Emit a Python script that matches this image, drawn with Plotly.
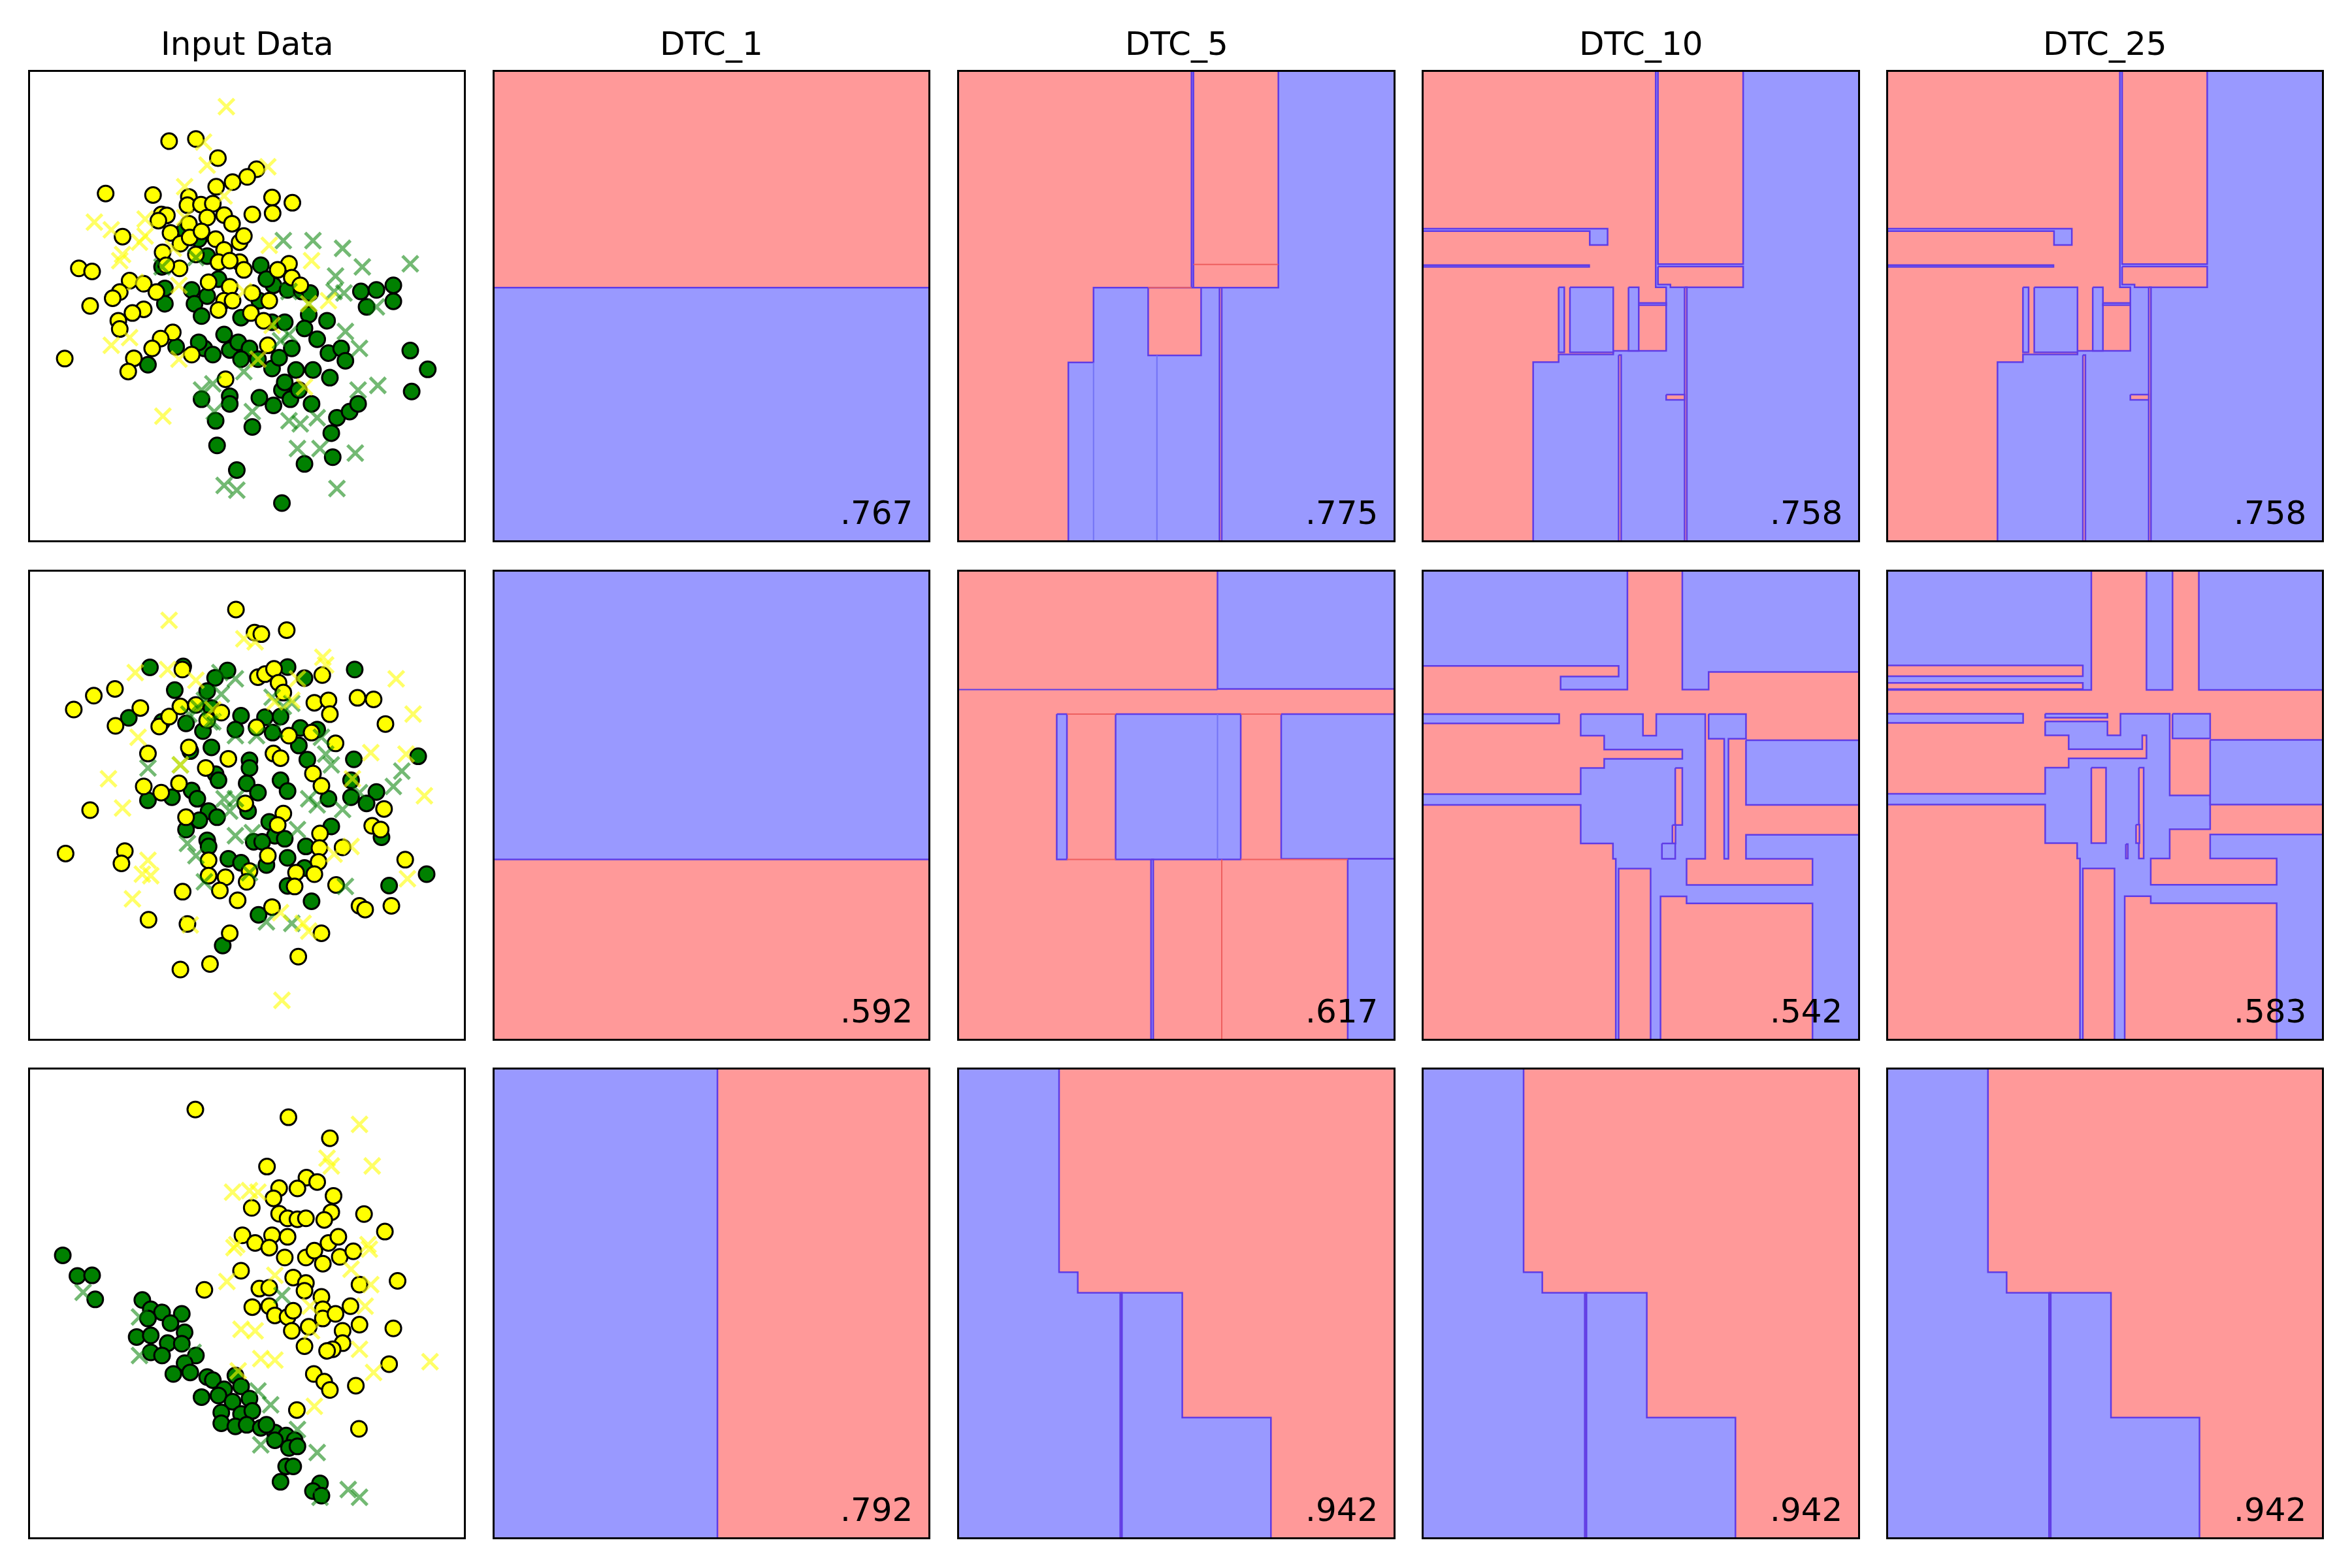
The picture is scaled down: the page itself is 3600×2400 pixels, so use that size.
import plotly.graph_objects as go

# ------------------------------------------------------------------ data
TITLES = ["Input Data", "DTC_1", "DTC_5", "DTC_10", "DTC_25"]
SCORES = [[".767", ".775", ".758", ".758"],
          [".592", ".617", ".542", ".583"],
          [".792", ".942", ".942", ".942"]]

# ---- input data, row 1 (x, y in panel reading units, y grows downward)
R1_TRAIN_YELLOW = [(505,252),(600,245),(678,307),(815,343),(782,368),(730,385),(672,400),(280,422),(448,427),(575,433),
    (570,460),(618,458),(660,455),(870,435),(942,452),(872,486),(800,490),(478,490),(497,493),(640,500),(700,492),
    (728,520),(467,510),(510,550),(575,520),(340,562),(545,585),(578,565),(670,570),(755,580),(770,560),(482,613),
    (700,605),(680,645),(755,645),(770,670),(930,650),(890,670),(185,665),(232,675),(542,665),(495,655),(365,705),
    (415,715),(460,742),(330,742),(305,762),(225,787),(645,710),(720,725),(700,770),(795,810),(680,800),(940,695),
    (970,720),(415,798),(375,810),(325,835),(330,862),(840,835),(518,873),(475,893),(445,925),(585,945),(380,957),
    (360,1000),(855,915),(705,1025),(135,958),(860,770),(800,745),(620,545),(600,620),(720,640),(730,770)]
R1_TRAIN_GREEN = [(610,570),(640,625),(830,655),(875,720),(925,735),(480,660),(490,730),(490,780),(585,735),(595,780),
    (620,820),(640,755),(760,825),(825,770),(870,840),(915,840),(975,740),(1005,745),(1000,815),(1065,835),(985,860),
    (1030,895),(940,925),(1070,940),(1115,925),(1130,965),(1075,1020),(1015,995),(955,995),(870,990),(895,955),
    (630,925),(610,905),(660,945),(720,930),(750,905),(790,925),(700,880),(820,960),(530,920),(430,978),(620,1090),
    (720,1080),(720,1105),(670,1160),(825,1085),(875,1110),(905,1060),(935,1090),(1010,1105),(915,1035),(965,1060),
    (1100,1150),(1145,1130),(1175,1105),(1080,1200),(800,1180),(675,1240),(745,1320),(985,1300),(1085,1278),
    (905,1427),(1185,740),(1240,735),(1300,720),(1300,772),(1205,790),(1360,932),(1422,993),(1365,1065),(560,540),
    (680,700),(760,960),(850,700)]
R1_TEST_YELLOW = [(708,140),(627,255),(640,330),(855,335),(560,400),(240,515),(300,540),(420,505),(400,580),(420,560),
    (340,620),(330,640),(540,720),(860,590),(1010,640),(385,710),(300,915),(365,890),(540,960),(483,1145),(985,1050),
    (1000,780),(1070,770),(770,740),(820,960),(870,850),(560,500),(700,430),(520,600)]
R1_TEST_GREEN = [(910,575),(1015,575),(1120,600),(1190,660),(1360,650),(1095,690),(1125,745),(1240,790),(1130,870),
    (1180,925),(1245,1045),(1175,1060),(930,880),(900,900),(800,1130),(930,1160),(970,1170),(1030,1150),(960,1250),
    (1040,1250),(1165,1265),(1100,1380),(700,1370),(745,1385),(620,1060),(660,1040),(665,1130),(770,1000),(930,740),
    (1090,740),(600,630),(480,660),(1000,780)]

# ---- input data, row 2
R2_TRAIN_YELLOW = [(742,145),(808,220),(832,225),(922,212),(552,340),(820,365),(845,355),(877,338),(893,383),(1048,358),
    (313,403),(238,425),(167,470),(403,465),(315,523),(470,525),(505,493),(545,460),(600,455),(690,480),(640,505),
    (910,415),(1020,448),(1070,440),(1075,485),(1173,432),(1230,437),(1272,517),(815,528),(930,555),(1010,545),
    (1095,580),(430,613),(575,593),(715,630),(635,660),(875,613),(900,628),(1015,678),(1045,718),(415,720),(477,740),
    (540,710),(225,797),(775,775),(910,808),(890,845),(565,820),(1267,793),(1225,848),(1255,860),(1040,873),
    (1038,920),(1120,918),(645,960),(855,945),(1035,965),(1020,1005),(955,1000),(790,995),(705,1015),(645,1010),
    (685,1058),(780,1030),(950,1045),(1097,1040),(1342,958),(138,938),(348,930),(336,970),(553,1062),(748,1090),
    (870,1112),(1180,1108),(1200,1120),(1293,1108),(432,1153),(570,1167),(720,1197),(1045,1197),(963,1273),
    (650,1297),(545,1315)]
R2_TRAIN_GREEN = [(437,333),(555,330),(712,343),(668,367),(925,332),(985,368),(1163,340),(525,407),(640,410),(655,465),
    (760,490),(845,495),(900,493),(362,497),(480,510),(565,515),(625,540),(740,535),(872,545),(970,530),(1030,535),
    (965,587),(655,593),(580,605),(790,635),(790,660),(995,633),(1160,632),(1388,622),(670,680),(680,700),(780,710),
    (900,700),(925,735),(820,740),(1150,700),(1240,738),(1205,775),(1070,760),(1150,755),(430,765),(515,755),
    (585,733),(605,760),(645,800),(675,820),(785,800),(612,830),(565,860),(860,835),(880,880),(915,890),(1080,850),
    (990,915),(805,900),(835,900),(640,895),(645,915),(715,955),(760,968),(850,975),(925,952),(985,985),(925,1043),
    (1010,1093),(822,1137),(1258,885),(1285,1042),(1418,1005),(695,1237)]
R2_TEST_YELLOW = [(505,180),(770,240),(810,250),(1050,300),(1060,325),(385,350),(500,340),(600,375),(1310,370),
    (1370,485),(395,560),(290,695),(340,790),(960,370),(660,470),(545,650),(1220,610),(1345,615),(1410,750),
    (1155,695),(430,960),(410,1005),(440,1010),(375,1085),(580,1170),(900,1130),(980,1165),(1350,1020),(1150,915),
    (1000,1190),(905,1415),(940,440),(880,445),(1090,940)]
R2_TEST_GREEN = [(740,370),(685,350),(690,420),(630,440),(575,485),(610,465),(650,510),(740,555),(815,555),(870,430),
    (910,460),(940,450),(1045,560),(1060,615),(1080,650),(430,660),(545,650),(700,760),(740,760),(720,800),
    (1000,760),(1030,780),(1120,795),(1180,740),(1300,720),(1330,670),(740,880),(800,870),(960,860),(570,905),
    (600,945),(630,1030),(790,1000),(850,1160),(940,1165),(1130,1045),(880,535),(660,510)]

# ---- input data, row 3
R3_TRAIN_YELLOW = [(598,152),(928,177),(1075,245),(852,337),(992,373),(1030,387),(960,408),(895,407),(875,440),
    (1088,432),(798,471),(895,490),(1080,485),(1196,491),(925,505),(960,508),(990,505),(1055,510),(1270,548),
    (765,560),(810,585),(870,560),(925,565),(860,600),(915,632),(990,632),(1020,610),(1050,652),(1070,585),
    (1105,565),(1110,630),(1158,612),(760,675),(630,737),(945,697),(990,715),(985,740),(1315,708),(1180,720),
    (825,733),(860,730),(800,793),(860,790),(880,820),(925,825),(945,805),(1045,760),(1050,800),(1050,830),
    (1095,815),(1148,790),(1180,850),(1000,857),(940,870),(1120,870),(1120,910),(1085,930),(985,920),(1065,935),
    (1300,862),(1285,978),(1018,1010),(1055,1035),(1075,1062),(1167,1048),(958,1127),(1178,1188)]
R3_TRAIN_GREEN = [(128,625),(180,692),(232,690),(243,768),(410,770),(440,800),(480,810),(550,815),(430,830),(510,845),
    (560,875),(390,890),(440,885),(500,910),(550,912),(440,940),(480,950),(600,950),(560,975),(520,1010),(580,1005),
    (640,1020),(660,1030),(740,1015),(700,1060),(760,1050),(620,1085),(680,1080),(730,1100),(790,1090),(690,1135),
    (760,1140),(800,1130),(690,1170),(740,1180),(780,1175),(830,1185),(880,1200),(850,1175),(920,1210),(950,1225),
    (880,1225),(930,1250),(960,1245),(920,1310),(945,1310),(900,1360),(1040,1365),(1015,1390),(1045,1405)]
R3_TEST_YELLOW = [(1180,200),(1065,310),(1080,335),(1225,335),(730,420),(790,415),(820,420),(745,590),(735,600),
    (1210,590),(1215,605),(1150,670),(710,710),(1220,720),(1200,790),(1005,790),(760,865),(810,870),(830,960),
    (880,965),(1010,870),(1180,930),(1230,1005),(1430,970),(1020,1115),(750,1000),(880,690)]
R3_TEST_GREEN = [(200,745),(400,825),(400,950),(590,940),(820,1065),(865,1110),(960,1190),(830,1240),(1030,1265),
    (1140,1385),(1180,1410),(1040,1410),(905,755)]

# ---- decision regions: (class, rect (x0,y0,x1,y1) or polygon [(x,y),...]); drawn in order
R1_DTC1 = [("R", (0, 0, 1570, 1570)), ("B", (0, 727, 1570, 1570))]
R1_DTC5 = [
    ("B", (0, 0, 1570, 1570)),
    ("R", [(0, 0), (838, 0), (838, 727), (492, 727), (492, 970), (403, 970), (403, 1570), (0, 1570)]),
    ("R", (845, 0, 1145, 727)),
    ("R", (685, 727, 872, 947)),
    ("R", (937, 727, 945, 1570)),
]
R1_DTC10 = [
    ("B", (0, 0, 1570, 1570)),
    ("R", [(0, 0), (838, 0), (838, 727), (875, 727), (875, 933), (688, 933), (688, 945), (495, 945), (495, 970),
           (405, 970), (405, 1570), (0, 1570)]),
    ("B", [(0, 537), (668, 537), (668, 590), (605, 590), (605, 545), (0, 545)]),
    ("B", (0, 655, 603, 661)),
    ("B", (495, 727, 515, 938)),
    ("B", (535, 727, 688, 938)),
    ("B", (742, 727, 778, 933)),
    ("B", (778, 778, 875, 785)),
    ("R", (846, 0, 1147, 652)),
    ("R", [(846, 660), (1147, 660), (1147, 727), (890, 727), (890, 718), (846, 718)]),
    ("R", (707, 947, 716, 1570)),
    ("R", (940, 727, 948, 1570)),
    ("R", (875, 1075, 940, 1092)),
]
R2_DTC1 = [("B", (0, 0, 1570, 1570)), ("R", (0, 957, 1570, 1570))]
R2_DTC5 = [
    ("R", (0, 0, 1570, 1570)),
    ("B", (930, 0, 1570, 403)),
    ("B", (362, 485, 398, 957)),
    ("B", (570, 485, 1012, 957)),
    ("B", (1155, 485, 1570, 955)),
    ("B", (1390, 955, 1570, 1570)),
    ("B", (695, 957, 703, 1570)),
]
R2_DTC10 = [
    ("R", (0, 0, 1570, 1570)),
    ("B", [(0, 0), (738, 0), (738, 405), (502, 405), (502, 363), (707, 363), (707, 328), (0, 328)]),
    ("B", [(932, 0), (1570, 0), (1570, 348), (1025, 348), (1025, 405), (932, 405)]),
    ("B", (0, 485, 497, 515)),
    ("B", [(573, 485), (793, 485), (793, 555), (840, 555), (840, 485), (1013, 485), (1013, 955), (947, 955),
           (947, 1040), (1392, 1040), (1392, 955), (1157, 955), (1157, 877), (1570, 877), (1570, 1570),
           (1392, 1570), (1392, 1100), (947, 1100), (947, 1077), (855, 1077), (855, 1570), (820, 1570),
           (820, 987), (707, 987), (707, 1570), (697, 1570), (697, 955), (687, 955), (687, 905), (573, 905),
           (573, 780), (0, 780), (0, 745), (573, 745), (573, 660), (656, 660), (656, 630), (932, 630),
           (932, 600), (656, 600), (656, 555), (573, 555)]),
    ("B", [(1025, 485), (1157, 485), (1157, 565), (1095, 565), (1095, 955), (1080, 955), (1080, 565), (1025, 565)]),
    ("B", (1157, 570, 1570, 780)),
    ("R", (907, 660, 932, 845)),
    ("R", (897, 845, 908, 905)),
    ("B", (860, 905, 907, 955)),
]
R2_DTC25 = [
    ("R", (0, 0, 1570, 1570)),
    ("B", (0, 0, 740, 408)),
    ("R", (0, 328, 710, 363)),
    ("R", (0, 385, 710, 405)),
    ("B", (935, 0, 1027, 408)),
    ("B", (1120, 0, 1570, 408)),
    ("B", (0, 485, 499, 515)),
    ("B", (577, 485, 797, 498)),
    ("B", [(577, 510), (797, 510), (797, 555), (843, 555), (843, 485), (1017, 485), (1017, 750), (1160, 750),
           (1160, 860), (1017, 860), (1017, 955), (950, 955), (950, 1040), (1395, 1040), (1395, 955),
           (1160, 955), (1160, 877), (1570, 877), (1570, 1570), (1395, 1570), (1395, 1100), (950, 1100),
           (950, 1077), (858, 1077), (858, 1570), (822, 1570), (822, 987), (710, 987), (710, 1570),
           (700, 1570), (700, 955), (690, 955), (690, 905), (577, 905), (577, 780), (0, 780), (0, 745),
           (577, 745), (577, 660), (660, 660), (660, 630), (935, 630), (935, 555), (920, 555), (920, 600),
           (660, 600), (660, 555), (577, 555)]),
    ("R", (740, 660, 792, 905)),
    ("R", (908, 660, 925, 955)),
    ("R", (898, 845, 910, 905)),
    ("R", (862, 908, 869, 955)),
    ("B", (1027, 485, 1160, 565)),
    ("B", (1160, 570, 1570, 780)),
]
R3_DTC1 = [("R", (0, 0, 1570, 1570)), ("B", (0, 0, 805, 1570))]
R3_DTC5 = [
    ("R", (0, 0, 1570, 1570)),
    ("B", [(0, 0), (370, 0), (370, 680), (436, 680), (436, 747), (805, 747), (805, 1152), (1118, 1152),
           (1118, 1570), (0, 1570)]),
    ("R", (586, 747, 592, 1570)),
]

# same-class seams visible inside regions
R1_DTC5_SEAMS = [("R", [(845, 652), (1145, 652)]), ("R", [(685, 727), (838, 727)]),
                 ("B", [(492, 970), (492, 1570)]), ("B", [(716, 947), (716, 1570)])]
R2_DTC5_SEAMS = [("P", [(0, 405), (930, 405)]), ("R", [(945, 957), (945, 1570)]),
                 ("R", [(398, 485), (570, 485)]), ("R", [(1012, 485), (1155, 485)]),
                 ("R", [(398, 957), (570, 957)]), ("R", [(1012, 957), (1390, 957)]),
                 ("B", [(930, 485), (930, 957)])]

REGIONS = [[R1_DTC1, R1_DTC5, R1_DTC10, R1_DTC10],
           [R2_DTC1, R2_DTC5, R2_DTC10, R2_DTC25],
           [R3_DTC1, R3_DTC5, R3_DTC5, R3_DTC5]]
SEAMS = [[[], R1_DTC5_SEAMS, [], []],
         [[], R2_DTC5_SEAMS, [], []],
         [[], [], [], []]]
INPUT = [(R1_TRAIN_YELLOW, R1_TRAIN_GREEN, R1_TEST_YELLOW, R1_TEST_GREEN),
         (R2_TRAIN_YELLOW, R2_TRAIN_GREEN, R2_TEST_YELLOW, R2_TEST_GREEN),
         (R3_TRAIN_YELLOW, R3_TRAIN_GREEN, R3_TEST_YELLOW, R3_TEST_GREEN)]

# panel extents in reading units (left, right, top, bottom)
INPUT_FRAMES = [(12, 1550, 27, 1548), (12, 1550, 22, 1540), (12, 1550, 22, 1540)]
DTC_FRAMES = [[(17, 1552, 27, 1547), (17, 1552, 27, 1547), (18, 1553, 28, 1548), (18, 1553, 28, 1548)],
              [(17, 1552, 22, 1540), (17, 1552, 22, 1540), (18, 1553, 22, 1540), (22, 1555, 24, 1540)],
              [(17, 1551, 22, 1541), (17, 1551, 22, 1541), (17, 1551, 22, 1541), (17, 1551, 22, 1541)]]

# ------------------------------------------------------------------ layout / style
W, H = 3600, 2400
COLS = [(46, 710), (757, 1421), (1468, 2133), (2179, 2844), (2890, 3554)]
ROWS = [(110, 827), (875, 1590), (1637, 2353)]
FONT = "DejaVu Sans"
FILL = {"R": "rgb(255,153,153)", "B": "rgb(153,153,255)"}
EDGE = "rgb(95,60,230)"
SEAM_COL = {"R": "rgb(238,95,95)", "B": "rgb(115,115,245)", "P": EDGE}

fig = go.Figure()
annotations = []


def ax_names(idx):
    s = "" if idx == 1 else str(idx)
    return "x" + s, "y" + s, "xaxis" + s, "yaxis" + s


def polygon(spec):
    if len(spec) == 4 and not isinstance(spec[0], tuple):
        x0, y0, x1, y1 = spec
        pts = [(x0, y0), (x1, y0), (x1, y1), (x0, y1)]
    else:
        pts = list(spec)
    pts = pts + [pts[0]]
    return [p[0] for p in pts], [p[1] for p in pts]


layout_axes = {}
for r in range(3):
    for c in range(5):
        idx = r * 5 + c + 1
        xn, yn, xk, yk = ax_names(idx)
        if c == 0:
            L, R, T, B = INPUT_FRAMES[r]
            ty, tg, sy, sg = INPUT[r]
            fig.add_trace(go.Scatter(
                x=[p[0] for p in tg], y=[p[1] for p in tg], xaxis=xn, yaxis=yn, mode="markers",
                marker=dict(symbol="circle", size=24, color="#008000", line=dict(color="black", width=3)),
                hoverinfo="skip", showlegend=False))
            fig.add_trace(go.Scatter(
                x=[p[0] for p in ty], y=[p[1] for p in ty], xaxis=xn, yaxis=yn, mode="markers",
                marker=dict(symbol="circle", size=24, color="#FFFF00", line=dict(color="black", width=3)),
                hoverinfo="skip", showlegend=False))
            for pts, col in ((sg, "rgba(0,128,0,0.55)"), (sy, "rgba(255,255,0,0.6)")):
                fig.add_trace(go.Scatter(
                    x=[p[0] for p in pts], y=[p[1] for p in pts], xaxis=xn, yaxis=yn, mode="markers",
                    marker=dict(symbol="x-thin", size=24, color=col, line=dict(color=col, width=5)),
                    hoverinfo="skip", showlegend=False))
        else:
            L, R, T, B = DTC_FRAMES[r][c - 1]
            for i, (cls, spec) in enumerate(REGIONS[r][c - 1]):
                xs, ys = polygon(spec)
                fig.add_trace(go.Scatter(
                    x=xs, y=ys, xaxis=xn, yaxis=yn, mode="lines", fill="toself",
                    fillcolor=FILL[cls], line=dict(color=EDGE, width=0 if i == 0 else 2.5),
                    hoverinfo="skip", showlegend=False))
            for cls, pts in SEAMS[r][c - 1]:
                fig.add_trace(go.Scatter(
                    x=[p[0] for p in pts], y=[p[1] for p in pts], xaxis=xn, yaxis=yn, mode="lines",
                    line=dict(color=SEAM_COL[cls], width=2), hoverinfo="skip", showlegend=False))
            annotations.append(dict(
                text=SCORES[r][c - 1], xref=xn + " domain", yref=yn + " domain", x=1, y=0,
                xanchor="right", yanchor="bottom", xshift=-22, yshift=11, showarrow=False,
                font=dict(family=FONT, size=50, color="black")))
        x0, x1 = COLS[c]
        y0, y1 = ROWS[r]
        common = dict(showticklabels=False, ticks="", showgrid=False, zeroline=False,
                      showline=True, mirror=True, linecolor="black", linewidth=3)
        layout_axes[xk] = dict(domain=[x0 / W, x1 / W], range=[L, R], anchor=yn, **common)
        layout_axes[yk] = dict(domain=[1 - y1 / H, 1 - y0 / H], range=[B, T], anchor=xn, **common)
        if r == 0:
            annotations.append(dict(
                text=TITLES[c], xref=xn + " domain", yref=yn + " domain", x=0.5, y=1,
                xanchor="center", yanchor="bottom", yshift=12, showarrow=False,
                font=dict(family=FONT, size=50, color="black")))

fig.update_layout(width=W, height=H, margin=dict(l=0, r=0, t=0, b=0),
                  paper_bgcolor="white", plot_bgcolor="white", showlegend=False,
                  annotations=annotations, **layout_axes)
fig.write_html("out.html")
